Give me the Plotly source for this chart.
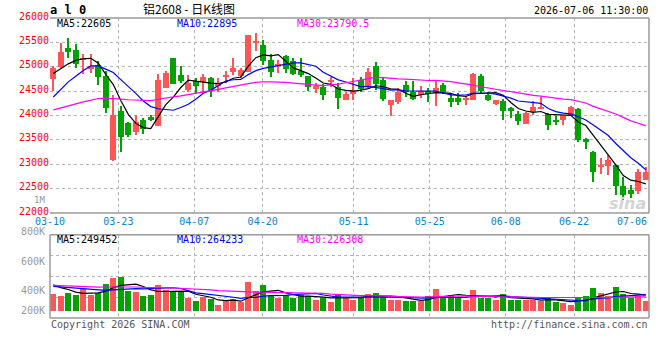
import plotly.graph_objects as go
import pandas as pd

# ---------------- data ----------------
opens = [24750, 24990, 25380, 25340, 25140, 24960, 25040, 24820, 23080, 24100,
         23850, 23660, 23900, 23970, 23790, 24570, 25180, 24840, 24520, 24700,
         24690, 24760, 24610, 24800, 24900, 24820, 24900, 25500, 25450, 25140,
         25020, 25220, 25120, 24910, 24820, 24540, 24590, 24680, 24590, 24320,
         24450, 24730, 24590, 25020, 24730, 24220, 24270, 24630, 24480, 24420,
         24500, 24470, 24630, 24360, 24360, 24320, 24320, 24810, 24420, 24240,
         24300, 24150, 24030, 23830, 24070, 24150, 24040, 23910, 23900, 24000,
         24140, 23520, 23260, 22950, 22970, 22990, 22560, 22480, 22460, 22670]
highs = [25020, 25490, 25590, 25470, 25260, 25260, 25110, 24910, 24420, 24200,
         23860, 24020, 23950, 24010, 24860, 24910, 25180, 25020, 24830, 24760,
         24850, 24780, 24760, 24910, 25180, 24980, 25660, 25690, 25540, 25260,
         25140, 25240, 25170, 25170, 24820, 24660, 24640, 24800, 24660, 24490,
         24760, 24800, 24970, 25100, 24790, 24320, 24570, 24700, 24700, 24610,
         24560, 24700, 24670, 24460, 24460, 24390, 24870, 24850, 24480, 24320,
         24340, 24170, 24100, 24080, 24290, 24380, 24050, 23980, 23980, 24200,
         24160, 23530, 23270, 23130, 23200, 22990, 22740, 22580, 22910, 22940]
lows = [24500, 24980, 25180, 24980, 24850, 24870, 24630, 24050, 23070, 23260,
        23550, 23600, 23620, 23890, 23790, 24570, 24650, 24660, 24480, 24460,
        24470, 24370, 24490, 24670, 24830, 24760, 24890, 25320, 25040, 24780,
        24880, 24880, 24840, 24800, 24500, 24470, 24310, 24580, 24140, 24310,
        24320, 24490, 24560, 24520, 24290, 24000, 24240, 24370, 24320, 24360,
        24270, 24200, 24440, 24180, 24220, 24220, 24310, 24470, 24290, 24220,
        23900, 23940, 23810, 23830, 24010, 24140, 23710, 23810, 23810, 23980,
        23450, 23320, 22640, 22810, 22780, 22360, 22270, 22310, 22400, 22670]
closes = [24980, 25300, 25300, 25060, 25180, 25020, 24800, 24160, 24010, 23550,
          23600, 23870, 23730, 23910, 24730, 24870, 24650, 24710, 24670, 24610,
          24800, 24530, 24670, 24840, 24980, 24930, 25650, 25530, 25120, 24890,
          25060, 24950, 24860, 24840, 24590, 24610, 24430, 24730, 24360, 24440,
          24530, 24540, 24890, 24650, 24340, 24310, 24490, 24490, 24340, 24500,
          24440, 24570, 24480, 24270, 24270, 24360, 24850, 24510, 24310, 24310,
          24100, 24100, 23890, 24060, 24180, 24180, 23810, 23860, 23980, 24180,
          23500, 23450, 22850, 22990, 23090, 22550, 22360, 22380, 22850, 22850]
volumes = [267000, 240000, 283000, 251000, 347000, 256000, 283000, 427000, 523000, 539000,
           325000, 309000, 240000, 251000, 411000, 336000, 309000, 309000, 203000, 160000,
           219000, 187000, 91000, 155000, 187000, 139000, 459000, 320000, 411000, 240000,
           203000, 256000, 203000, 256000, 245000, 176000, 203000, 139000, 267000, 229000,
           176000, 229000, 267000, 283000, 219000, 176000, 176000, 155000, 160000, 160000,
           235000, 347000, 235000, 251000, 229000, 171000, 331000, 213000, 213000, 171000,
           267000, 171000, 171000, 171000, 171000, 160000, 219000, 139000, 123000, 91000,
           219000, 235000, 363000, 283000, 235000, 379000, 277000, 203000, 235000, 155000]
# sessions before the first visible candle (only feed the moving averages)
prior_closes = [23900, 23950, 24050, 24000, 23900, 23850, 23950, 24100, 24050, 23980,
                24000, 24050, 23950, 23900, 24000, 24100, 24050, 23950, 23980, 23920,
                23700, 23800, 23900, 24000, 24100, 24800, 24800, 24710, 25010]
prior_volumes = [420000, 395000, 440000, 410000, 380000, 430000, 405000, 450000, 415000, 390000,
                 425000, 400000, 435000, 410000, 385000, 420000, 445000, 400000, 410000, 410000,
                 340000, 380000, 350000, 370000, 370000, 470000, 440000, 460000, 443000]

tick_idx = [0, 9, 19, 28, 40, 50, 60, 69]
tick_labels = ["03-10", "03-23", "04-07", "04-20", "05-11", "05-25", "06-08", "06-22"]
last_label = "07-06"
price_ticks = [22000, 22500, 23000, 23500, 24000, 24500, 25000, 25500, 26000]
vol_tick_labels = ["800K", "600K", "400K", "200K"]
price_ma_labels = ["MA5:22605", "MA10:22895", "MA30:23790.5"]
vol_ma_labels = ["MA5:249452", "MA10:264233", "MA30:226308"]
header_code = "a l 0"
header_title = "铝2608 - 日K线图"
header_time = "2026-07-06 11:30:00"
footer_left = "Copyright 2026 SINA.COM"
footer_right = "http://finance.sina.com.cn"

# ---------------- styling / geometry ----------------
RED = "#ff5555"
GREEN = "#00a300"
MA_COLORS = ["#000000", "#0000ff", "#ff00ff"]
GRID = "#b4b4b4"
BORDER = "#9a9a9a"
MONO = "DejaVu Sans Mono"

W, H = 660, 360
PL, PR, PT, PB = 50, 649, 18, 318


def pyp(p):
    return (PB - p) / (PB - PT)


def pxp(p):
    return (p - PL) / (PR - PL)


n = len(closes)
idx = list(range(n))
colors = [RED if c >= o else GREEN for o, c in zip(opens, closes)]
body_base = [min(o, c) for o, c in zip(opens, closes)]
body_h = [max(abs(c - o), 15) for o, c in zip(opens, closes)]
wick_h = [h - l for h, l in zip(highs, lows)]


def ma(prior, vals, k):
    s = pd.Series(prior + vals, dtype=float)
    return s.rolling(k).mean().iloc[len(prior):].tolist()


price_mas = [ma(prior_closes, closes, k) for k in (5, 10, 30)]
vol_mas = [ma(prior_volumes, volumes, k) for k in (5, 10, 30)]

fig = go.Figure()
# wicks
fig.add_trace(go.Bar(x=idx, y=wick_h, base=lows, width=0.15, marker_color=colors,
                     marker_line_width=0, xaxis="x", yaxis="y"))
# bodies
fig.add_trace(go.Bar(x=idx, y=body_h, base=body_base, width=0.76, marker_color=colors,
                     marker_line_width=0, xaxis="x", yaxis="y"))
for m, col in zip(price_mas, MA_COLORS):
    fig.add_trace(go.Scatter(x=idx, y=m, mode="lines", line=dict(color=col, width=1.2),
                             xaxis="x", yaxis="y"))
# volume
fig.add_trace(go.Bar(x=idx, y=volumes, width=0.76, marker_color=colors, marker_line_width=0,
                     xaxis="x2", yaxis="y2"))
for m, col in zip(vol_mas, MA_COLORS):
    fig.add_trace(go.Scatter(x=idx, y=m, mode="lines", line=dict(color=col, width=1.2),
                             xaxis="x2", yaxis="y2"))

# x geometry: candle centre pixel = 53.3 + 7.5*i ; date grid pixel = 50 + 7.595*k
x0 = (PL - 53.3) / 7.5
x1 = (PR - 53.3) / 7.5
grid_x = [(PL + 7.595 * k - 53.3) / 7.5 + (0.01 if k == 0 else 0) for k in tick_idx]

VPX = 16000.0  # volume units per pixel
vbase = 310.7
vr0 = -(PB - vbase) * VPX
vr1 = (vbase - 234.7) * VPX

xcommon = dict(range=[x0, x1], showgrid=True, gridcolor=GRID, griddash="dot", gridwidth=1,
               zeroline=False, showline=False, ticks="", tickmode="array", tickvals=grid_x)

fig.update_layout(
    width=W, height=H,
    margin=dict(l=PL, r=W - PR, t=PT, b=H - PB),
    paper_bgcolor="white", plot_bgcolor="white",
    showlegend=False, barmode="overlay", bargap=0,
    xaxis=dict(**xcommon, anchor="y", ticktext=tick_labels, ticklabelstandoff=1,
               tickfont=dict(family=MONO, size=10, color="#0a84d0")),
    xaxis2=dict(**xcommon, anchor="y2", showticklabels=False, matches="x"),
    yaxis=dict(domain=[pyp(213), 1.0], range=[22000, 26000], tickmode="array",
               tickvals=price_ticks, ticktext=[str(v) for v in price_ticks],
               tickfont=dict(family=MONO, size=10, color="#ff0000"), ticklabelshift=-2,
               showgrid=True, gridcolor=GRID, griddash="dot", zeroline=False,
               showline=False, ticks="", anchor="x"),
    yaxis2=dict(domain=[0, pyp(234.7)], range=[vr0, vr1], tick0=vr0, dtick=(vr1 - vr0) / 4,
                showticklabels=False, showgrid=True, gridcolor=GRID, griddash="dot",
                zeroline=False, showline=False, ticks="", anchor="x2"),
)

# panel borders
shapes = []
def seg(xa, ya, xb, yb):
    shapes.append(dict(type="line", xref="paper", yref="paper", x0=xa, y0=ya, x1=xb, y1=yb,
                       line=dict(color=BORDER, width=1.5), layer="above"))

seg(0, 1, 1, 1)
seg(1, 1, 1, pyp(213))
seg(0, pyp(213), 1, pyp(213))
seg(0, pyp(234.7), 1, pyp(234.7))
seg(0, 0, 1, 0)
seg(0, 0, 0, pyp(234.7))
seg(1, 0, 1, pyp(234.7))
fig.update_layout(shapes=shapes)

ann = []
def text(t, x, y, anchor="left", color="#000", size=10, family=MONO):
    ann.append(dict(text=t, x=pxp(x), y=pyp(y), xref="paper", yref="paper",
                    xanchor=anchor, yanchor="middle", showarrow=False,
                    font=dict(family=family, size=size, color=color)))

text(f"<b>{header_code}</b>", 48, 10, size=12)
text(header_title, 141, 9, size=12, family="Noto Sans CJK SC")
text(header_time, 650, 11, anchor="right")
for lab, x, col in zip(price_ma_labels, (55, 175, 295), MA_COLORS):
    text(lab, x, 23.5, color=col)
for lab, x, col in zip(vol_ma_labels, (54.5, 175, 295), MA_COLORS):
    text(lab, x, 239, color=col)
for lab, y in zip(vol_tick_labels, (231, 261, 290, 310)):
    text(lab, 46.5, y, anchor="right", color="#999999")
text("1M", 46.5, 200, anchor="right", color="#999999", size=9)
text(last_label, 649, 222, anchor="right", color="#0a84d0")
text(footer_left, 49, 324, color="#555555")
text(footer_right, 650, 324, anchor="right", color="#555555")
text("<b><i>sina</i></b>", 627, 203, anchor="center", color="#d4d4d4", size=16,
     family="DejaVu Sans")
fig.update_layout(annotations=ann)

fig.write_html("out.html")
